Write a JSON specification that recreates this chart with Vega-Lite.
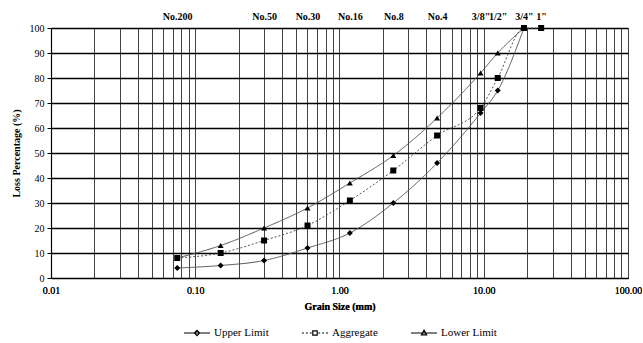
{
  "$schema": "https://vega.github.io/schema/vega-lite/v6.json",
  "width": 577,
  "height": 250,
  "padding": {"left": 11, "top": 11, "right": 0, "bottom": 5},
  "background": "white",
  "config": {
    "font": "Liberation Serif",
    "view": {"stroke": null},
    "axis": {"labelFont": "Liberation Serif", "titleFont": "Liberation Serif", "labelFontSize": 10, "titleFontSize": 10, "labelColor": "#000", "titleColor": "#000", "titleFontWeight": "bold", "domainColor": "#000", "tickColor": "#000"},
    "legend": {"labelFont": "Liberation Serif", "labelFontSize": 11, "labelColor": "#000", "layout": {"bottom": {"anchor": "middle"}}}
  },
  "data": {"values": [
    {"size": 0.075, "pct": 4, "series": "Upper Limit"},
    {"size": 0.15, "pct": 5, "series": "Upper Limit"},
    {"size": 0.3, "pct": 7, "series": "Upper Limit"},
    {"size": 0.6, "pct": 12, "series": "Upper Limit"},
    {"size": 1.18, "pct": 18, "series": "Upper Limit"},
    {"size": 2.36, "pct": 30, "series": "Upper Limit"},
    {"size": 4.75, "pct": 46, "series": "Upper Limit"},
    {"size": 9.5, "pct": 66, "series": "Upper Limit"},
    {"size": 12.5, "pct": 75, "series": "Upper Limit"},
    {"size": 19, "pct": 100, "series": "Upper Limit"},
    {"size": 0.075, "pct": 8, "series": "Aggregate"},
    {"size": 0.15, "pct": 10, "series": "Aggregate"},
    {"size": 0.3, "pct": 15, "series": "Aggregate"},
    {"size": 0.6, "pct": 21, "series": "Aggregate"},
    {"size": 1.18, "pct": 31, "series": "Aggregate"},
    {"size": 2.36, "pct": 43, "series": "Aggregate"},
    {"size": 4.75, "pct": 57, "series": "Aggregate"},
    {"size": 9.5, "pct": 68, "series": "Aggregate"},
    {"size": 12.5, "pct": 80, "series": "Aggregate"},
    {"size": 19, "pct": 100, "series": "Aggregate"},
    {"size": 25, "pct": 100, "series": "Aggregate"},
    {"size": 0.075, "pct": 8, "series": "Lower Limit"},
    {"size": 0.15, "pct": 13, "series": "Lower Limit"},
    {"size": 0.3, "pct": 20, "series": "Lower Limit"},
    {"size": 0.6, "pct": 28, "series": "Lower Limit"},
    {"size": 1.18, "pct": 38, "series": "Lower Limit"},
    {"size": 2.36, "pct": 49, "series": "Lower Limit"},
    {"size": 4.75, "pct": 64, "series": "Lower Limit"},
    {"size": 9.5, "pct": 82, "series": "Lower Limit"},
    {"size": 12.5, "pct": 90, "series": "Lower Limit"},
    {"size": 19, "pct": 100, "series": "Lower Limit"}
  ]},
  "resolve": {"scale": {"shape": "independent"}, "legend": {"shape": "independent"}},
  "layer": [
    {
      "mark": {"type": "line", "interpolate": "monotone", "strokeWidth": 1, "color": "#555"},
      "encoding": {
        "x": {"field": "size", "type": "quantitative",
          "scale": {"type": "log", "domain": [0.01, 100], "nice": false},
          "axis": {"orient": "bottom", "title": "Grain Size (mm)", "titlePadding": 6,
            "values": [0.01,0.02,0.03,0.04,0.05,0.06,0.07,0.08,0.09,0.1,0.2,0.3,0.4,0.5,0.6,0.7,0.8,0.9,1,2,3,4,5,6,7,8,9,10,20,30,40,50,60,70,80,90,100],
            "labelExpr": "(datum.value==0.01||datum.value==0.1||datum.value==1||datum.value==10||datum.value==100) ? format(datum.value, '.2f') : ''",
            "labelOverlap": false, "labelFlush": false, "labelPadding": 7,
            "grid": true, "gridColor": "#444", "gridWidth": 1, "gridOpacity": 1,
            "ticks": false, "domainWidth": 1.2}},
        "y": {"field": "pct", "type": "quantitative",
          "scale": {"domain": [0, 100], "nice": false},
          "axis": {"title": "Loss Percentage (%)", "values": [0,10,20,30,40,50,60,70,80,90,100], "labelOverlap": false,
            "grid": true, "gridColor": "#000", "gridWidth": 1.5, "gridOpacity": 1,
            "tickSize": 4, "labelPadding": 3, "titlePadding": 8, "domainWidth": 1.2}},
        "detail": {"field": "series"},
        "strokeDash": {"condition": {"test": "datum.series == 'Aggregate'", "value": [2, 2]}, "value": [1, 0]}
      }
    },
    {
      "mark": {"type": "point", "filled": true, "color": "#000", "size": 36, "opacity": 1},
      "encoding": {
        "x": {"field": "size", "type": "quantitative",
          "scale": {"type": "log", "domain": [0.01, 100], "nice": false},
          "axis": {"orient": "top", "title": null, "values": [0.075, 0.3, 0.6, 1.18, 2.36, 4.75, 9.5, 12.5, 19, 25],
            "labelExpr": "datum.value==0.075?'No.200':datum.value==0.3?'No.50':datum.value==0.6?'No.30':datum.value==1.18?'No.16':datum.value==2.36?'No.8':datum.value==4.75?'No.4':datum.value==9.5?'3/8\"':datum.value==12.5?'1/2\"':datum.value==19?'3/4\"':'1\"'",
            "labelOverlap": false, "labelFontWeight": "bold", "labelPadding": 7,
            "grid": false, "ticks": false, "domain": false}},
        "y": {"field": "pct", "type": "quantitative",
          "scale": {"domain": [0, 100], "nice": false},
          "axis": {"title": "Loss Percentage (%)", "values": [0,10,20,30,40,50,60,70,80,90,100], "labelOverlap": false,
            "grid": true, "gridColor": "#000", "gridWidth": 1.5, "gridOpacity": 1,
            "tickSize": 4, "labelPadding": 3, "titlePadding": 8, "domainWidth": 1.2}},
        "shape": {"field": "series", "type": "nominal",
          "scale": {"domain": ["Upper Limit", "Aggregate", "Lower Limit"], "range": ["diamond", "square", "triangle-up"]},
          "legend": null}
      }
    },
    {
      "mark": {"type": "point", "filled": false, "color": "#000", "strokeWidth": 1.2, "size": 676, "opacity": 0},
      "encoding": {
        "x": {"field": "size", "type": "quantitative",
          "scale": {"type": "log", "domain": [0.01, 100], "nice": false},
          "axis": {"orient": "bottom", "title": "Grain Size (mm)", "titlePadding": 6,
            "values": [0.01,0.02,0.03,0.04,0.05,0.06,0.07,0.08,0.09,0.1,0.2,0.3,0.4,0.5,0.6,0.7,0.8,0.9,1,2,3,4,5,6,7,8,9,10,20,30,40,50,60,70,80,90,100],
            "labelExpr": "(datum.value==0.01||datum.value==0.1||datum.value==1||datum.value==10||datum.value==100) ? format(datum.value, '.2f') : ''",
            "labelOverlap": false, "labelFlush": false, "labelPadding": 7,
            "grid": true, "gridColor": "#444", "gridWidth": 1, "gridOpacity": 1,
            "ticks": false, "domainWidth": 1.2}},
        "y": {"field": "pct", "type": "quantitative",
          "scale": {"domain": [0, 100], "nice": false},
          "axis": {"title": "Loss Percentage (%)", "values": [0,10,20,30,40,50,60,70,80,90,100], "labelOverlap": false,
            "grid": true, "gridColor": "#000", "gridWidth": 1.5, "gridOpacity": 1,
            "tickSize": 4, "labelPadding": 3, "titlePadding": 8, "domainWidth": 1.2}},
        "shape": {"field": "series", "type": "nominal",
          "scale": {"domain": ["Upper Limit", "Aggregate", "Lower Limit"],
            "range": ["M-1,0L1,0M0,-0.2L0.2,0L0,0.2L-0.2,0Z", "M-1,0L-0.85,0M-0.7,0L-0.55,0M-0.4,0L-0.25,0M0.25,0L0.4,0M0.55,0L0.7,0M0.85,0L1,0M-0.17,-0.17L0.17,-0.17L0.17,0.17L-0.17,0.17Z", "M-1,0L1,0M0,-0.22L0.2,0.15L-0.2,0.15Z"]},
          "legend": {"orient": "bottom", "direction": "horizontal", "title": null, "columnPadding": 30, "labelOffset": 3, "offset": 8,
            "labelFont": "Liberation Serif", "labelFontSize": 11, "labelColor": "#000",
            "symbolFillColor": "#000", "symbolStrokeColor": "#000", "symbolStrokeWidth": 1.2, "symbolSize": 676, "symbolOpacity": 1}
        }
      }
    }
  ]
}
